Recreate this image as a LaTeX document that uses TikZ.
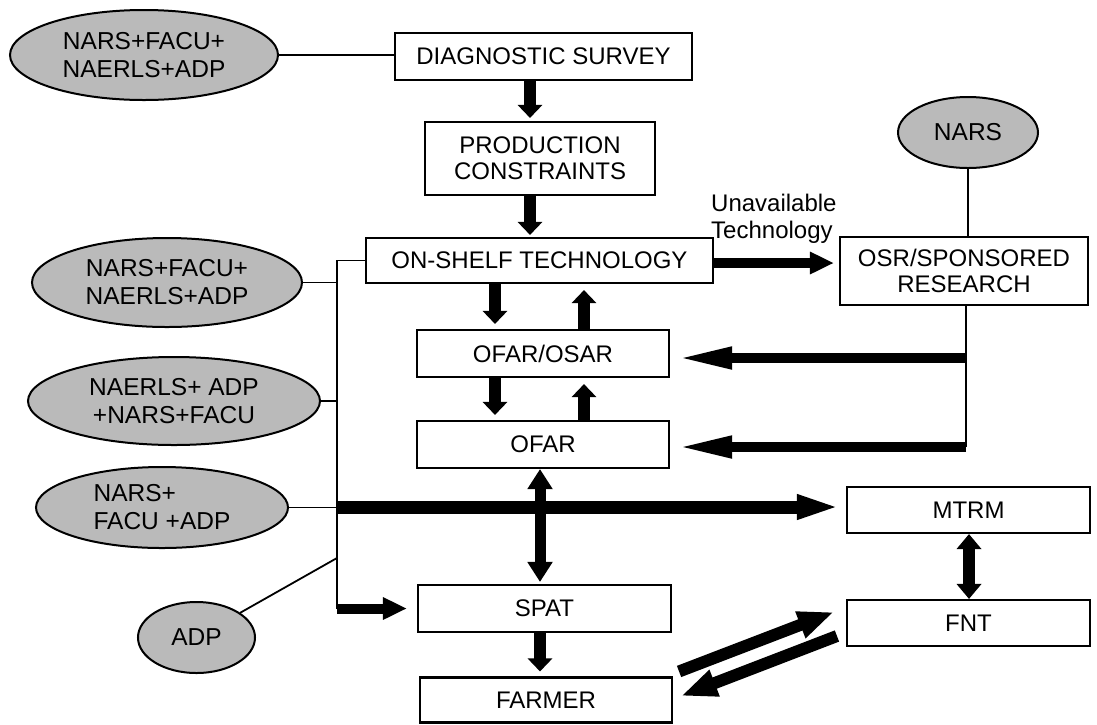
\documentclass[tikz,border=0pt]{standalone}
\usepackage{fontspec}
\setmainfont{Liberation Sans}
\usetikzlibrary{arrows.meta,shapes.geometric,calc}
\begin{document}
\begin{tikzpicture}[x=1pt,y=-1pt,
  box/.style={draw,line width=2.1pt,inner sep=0pt,align=center,font=\fontsize{24}{26}\selectfont},
  oval/.style={ellipse,draw,line width=2pt,fill=black!27,inner sep=0pt,align=center,font=\fontsize{24.5}{28}\selectfont},
  thinln/.style={line width=1.8pt},
  fatv/.style={line width=12pt,-{Triangle[width=24pt,length=13pt]}},
  fatdbl/.style={line width=11pt,{Triangle[width=24pt,length=20pt]}-{Triangle[width=24pt,length=20pt]}},
  fatdblb/.style={line width=12pt,{Triangle[width=24pt,length=15pt]}-{Triangle[width=24pt,length=15pt]}},
  longh/.style={line width=10pt,-{Triangle[width=20pt,length=56pt]}},
  medh/.style={line width=10pt,-{Triangle[width=21pt,length=24pt]}},
  bigh/.style={line width=13pt,-{Triangle[width=22pt,length=44pt]}},
  diag/.style={line width=12pt,-{Triangle[width=26pt,length=36pt]}}
]
\useasboundingbox (0,0) rectangle (1097,724);

% boxes
\node[box,minimum width=297pt,minimum height=47pt] (dsv) at (543.5,56.5) {DIAGNOSTIC SURVEY};
\node[box,minimum width=230pt,minimum height=73pt] (prod) at (540,158.5) {PRODUCTION\\CONSTRAINTS};
\node[box,minimum width=347pt,minimum height=45pt] (shelf) at (539.5,260.5) {ON-SHELF TECHNOLOGY};
\node[box,minimum width=248pt,minimum height=68pt] (osr) at (964,271) {OSR/SPONSORED\\RESEARCH};
\node[box,minimum width=252pt,minimum height=47pt] (ofos) at (543,353.5) {OFAR/OSAR};
\node[box,minimum width=252pt,minimum height=47pt] (ofar) at (543,444.5) {OFAR};
\node[box,minimum width=253pt,minimum height=47pt] (spat) at (544.5,608.5) {SPAT};
\node[box,minimum width=252pt,minimum height=45pt] (farmer) at (546,700) {FARMER};
\node[box,minimum width=243pt,minimum height=46pt] (mtrm) at (968.5,510) {MTRM};
\node[box,minimum width=243pt,minimum height=46pt] (fnt) at (968.5,623) {FNT};

% ellipses
\node[oval,minimum width=268pt,minimum height=90pt] (e1) at (144,55) {NARS+FACU+\\NAERLS+ADP};
\node[oval,minimum width=270pt,minimum height=89pt] (e2) at (167,282.5) {NARS+FACU+\\NAERLS+ADP};
\node[oval,minimum width=292pt,minimum height=88pt] (e3) at (174,401) {NAERLS+ ADP\\+NARS+FACU};
\node[oval,minimum width=252pt,minimum height=81pt,align=left] (e4) at (162,507.5) {NARS+\\FACU +ADP};
\node[oval,minimum width=117pt,minimum height=71pt] (e5) at (196.5,637.5) {ADP};
\node[oval,minimum width=140pt,minimum height=71pt] (nars) at (968,132.5) {NARS};

% label
\node[anchor=south west,inner sep=0pt,align=left,font=\fontsize{24}{27}\selectfont] (unav) at (711,244) {Unavailable\\Technology};

% column helpers
\coordinate (cA) at (530,0);
\coordinate (cL) at (495,0);
\coordinate (cR) at (584,0);
\coordinate (cM) at (540,0);
\coordinate (cF) at (969,0);
\coordinate (bt) at (337,260.5);
\coordinate (bb) at (bt |- spat.west);
\coordinate (b5) at (337,558);
\coordinate (ob) at (966,447);

% thin connectors
\draw[thinln] (e1.east) -- (e1.east -| dsv.west);
\draw[thinln] (shelf.west) -- (bt) -- (bb);
\draw[thinln] (e2.east) -- (e2.east -| bt);
\draw[thinln] (e3.east) -- (e3.east -| bt);
\draw[thinln] (e4.east) -- (e4.east -| bt);
\draw[thinln] (e5) -- (b5);
\draw[thinln] (nars.south) -- (nars.south |- osr.north);
\draw[thinln] (ob |- osr.south) -- (ob);

% vertical fat arrows
\draw[fatv,shorten >=3pt] (cA |- dsv.south) -- (cA |- prod.north);
\draw[fatv,shorten >=2pt] (cA |- prod.south) -- (cA |- shelf.north);
\draw[fatv,shorten >=5pt] (cL |- shelf.south) -- (cL |- ofos.north);
\draw[fatv,shorten >=6pt] (cR |- ofos.north) -- (cR |- shelf.south);
\draw[fatv,shorten >=5pt] (cL |- ofos.south) -- (cL |- ofar.north);
\draw[fatv,shorten >=6pt] (cR |- ofar.north) -- (cR |- ofos.south);
\draw[fatdbl,shorten >=2pt] (cM |- ofar.south) -- (cM |- spat.north);
\draw[fatv,shorten >=5pt] (cM |- spat.south) -- (cM |- farmer.north);
\draw[fatdblb] (cF |- mtrm.south) -- (cF |- fnt.north);

% horizontal arrows
\draw[medh,shorten >=5pt] ([yshift=-2.5pt]shelf.east) -- ([yshift=-2.5pt]shelf.east -| osr.west);
\draw[longh,shorten >=6pt] ([yshift=-4.5pt]ofos.east -| ob) -- ([yshift=-4.5pt]ofos.east);
\draw[longh,shorten >=6pt] (ob) -- (ob -| ofar.east);
\draw[bigh,shorten >=5pt] ([yshift=3pt]mtrm.west -| bt) -- ([yshift=3pt]mtrm.west);
\draw[medh,shorten >=10pt] (bb) -- (spat.west);

% diagonal arrows farmer <-> fnt
\draw[diag] ($(farmer.north east)+(6,-5)$) -- ($(fnt.west)+(-12,-11)$);
\draw[diag] ($(fnt.west)+(-9,13)$) -- ($(farmer.east)+(8,-4)$);
\end{tikzpicture}
\end{document}
